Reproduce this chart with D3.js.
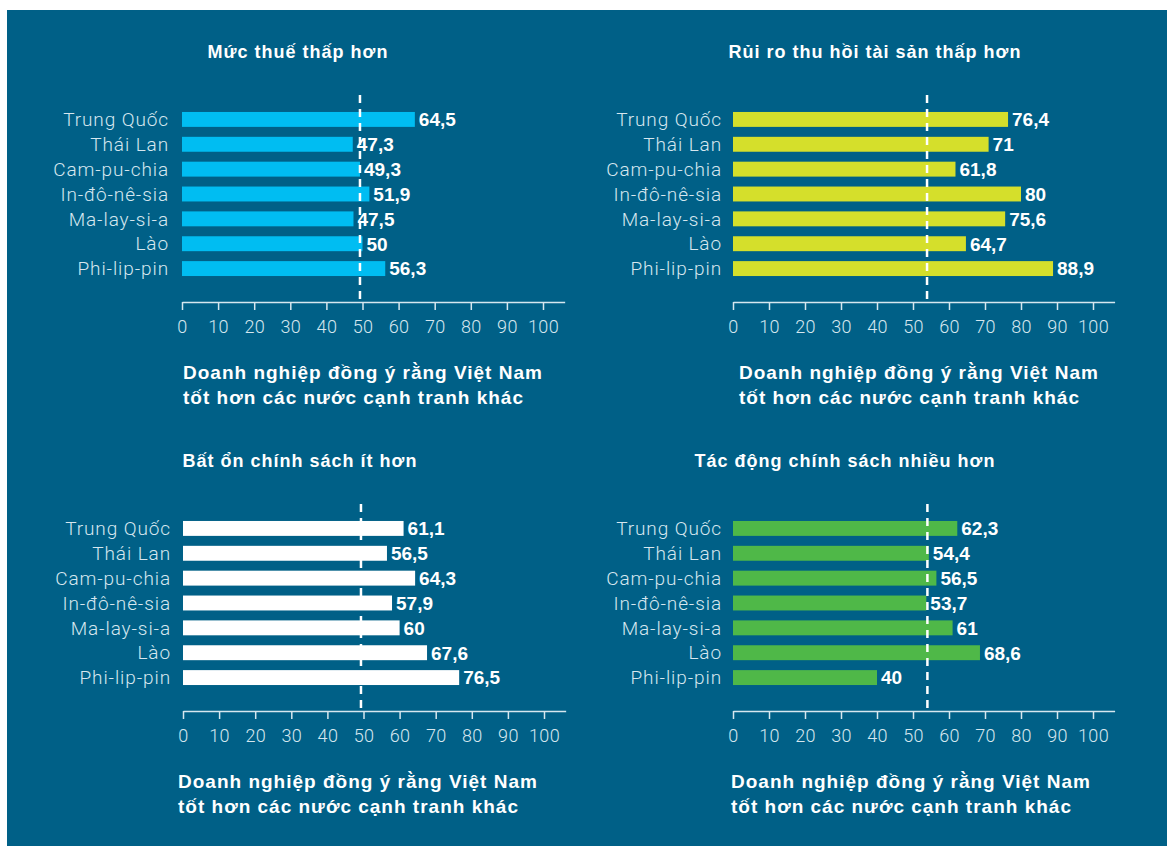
<!DOCTYPE html>
<html>
<head>
<meta charset="utf-8">
<script src="https://cdn.jsdelivr.net/npm/d3@7"></script>
<style>
  body { margin: 0; background: #fff; }
  .cat { font-family: Roboto, "Open Sans", sans-serif; font-weight: 300; font-size: 19px; letter-spacing: 0.9px; fill: #d6e7ef; }
  .val { font-family: "Liberation Sans", Arial, sans-serif; font-weight: bold; font-size: 19px; fill: #fff; }
  .ttl { font-family: "Liberation Sans", Arial, sans-serif; font-weight: bold; font-size: 18px; letter-spacing: 1px; fill: #fff; }
  .foot { font-family: "Liberation Sans", Arial, sans-serif; font-weight: bold; font-size: 19px; letter-spacing: 1px; fill: #fff; }
  .axis text { font-family: Roboto, "Open Sans", sans-serif; font-weight: 300; font-size: 18px; letter-spacing: 0.3px; fill: #d6e7ef; }
  .axis path, .axis line { stroke: #d6e7ef; stroke-width: 1.5; }
</style>
</head>
<body>
<div id="chart"></div>
<script>
// countries (same order in every panel)
var countries = ["Trung Quốc", "Thái Lan", "Cam-pu-chia", "In-đô-nê-sia", "Ma-lay-si-a", "Lào", "Phi-lip-pin"];

var titles = ["Mức thuế thấp hơn", "Rủi ro thu hồi tài sản thấp hơn",
              "Bất ổn chính sách ít hơn", "Tác động chính sách nhiều hơn"];

var taxLower = [64.5, 47.3, 49.3, 51.9, 47.5, 50, 56.3];
var assetRiskLower = [76.4, 71, 61.8, 80, 75.6, 64.7, 88.9];
var policyInstabilityLower = [61.1, 56.5, 64.3, 57.9, 60, 67.6, 76.5];
var policyImpactMore = [62.3, 54.4, 56.5, 53.7, 61, 68.6, 40];

// dashed reference value in each panel
var refValues = [49.3, 53.9, 49.3, 54];

var tickValues = [0, 10, 20, 30, 40, 50, 60, 70, 80, 90, 100];
var footLines = ["Doanh nghiệp đồng ý rằng Việt Nam", "tốt hơn các nước cạnh tranh khác"];

var svgWidth = 1167;
var svgHeight = 846;

var svg = d3.select("#chart")
  .append("svg")
  .attr("width", svgWidth)
  .attr("height", svgHeight);

svg.append("rect")
  .attr("x", 7).attr("y", 10)
  .attr("width", svgWidth - 7).attr("height", svgHeight - 10)
  .attr("fill", "#006087");

// panel layout
var panels = [
  { data: taxLower, color: "#00bdf2", x0: 182, x100: 543, top: 0, titleX: 298, labelX: 169, footX: 183 },
  { data: assetRiskLower, color: "#d5df2b", x0: 733, x100: 1093, top: 0, titleX: 875, labelX: 722, footX: 739 },
  { data: policyInstabilityLower, color: "#ffffff", x0: 183, x100: 544, top: 409, titleX: 300, labelX: 171, footX: 178 },
  { data: policyImpactMore, color: "#4fb848", x0: 733, x100: 1093, top: 409, titleX: 845, labelX: 722, footX: 731 }
];

panels.forEach(function(p, i) {
  var g = svg.append("g").attr("transform", "translate(0," + p.top + ")");

  var x = d3.scaleLinear()
    .domain([0, 100])
    .range([p.x0, p.x100]);

  var y = d3.scaleBand()
    .domain(countries)
    .range([107, 281])
    .paddingInner(0.4)
    .paddingOuter(0.2);

  var axisY = 302;

  g.append("text")
    .attr("class", "ttl")
    .attr("x", p.titleX)
    .attr("y", 58)
    .attr("text-anchor", "middle")
    .text(titles[i]);

  // bars
  g.selectAll("rect.bar")
    .data(p.data)
    .enter()
    .append("rect")
    .attr("class", "bar")
    .attr("x", x(0))
    .attr("y", function(d, j) { return y(countries[j]); })
    .attr("width", function(d) { return x(d) - x(0); })
    .attr("height", y.bandwidth())
    .attr("fill", p.color);

  // reference line
  g.append("line")
    .attr("x1", x(refValues[i])).attr("x2", x(refValues[i]))
    .attr("y1", 95).attr("y2", axisY)
    .attr("stroke", "#fff")
    .attr("stroke-width", 2.5)
    .attr("stroke-dasharray", "8,6");

  // category labels
  g.selectAll("text.cat")
    .data(countries)
    .enter()
    .append("text")
    .attr("class", "cat")
    .attr("x", p.labelX)
    .attr("y", function(d) { return y(d) + y.bandwidth() / 2; })
    .attr("dy", "0.35em")
    .attr("text-anchor", "end")
    .text(function(d) { return d; });

  // value labels
  g.selectAll("text.val")
    .data(p.data)
    .enter()
    .append("text")
    .attr("class", "val")
    .attr("x", function(d) { return x(d) + 4; })
    .attr("y", function(d, j) { return y(countries[j]) + y.bandwidth() / 2; })
    .attr("dy", "0.36em")
    .text(function(d) { return String(d).replace(".", ","); });

  // x axis
  var xAxisScale = d3.scaleLinear().domain([0, 106]).range([p.x0, x(106)]);
  g.append("g")
    .attr("class", "axis")
    .attr("transform", "translate(0," + axisY + ")")
    .call(d3.axisBottom(xAxisScale).tickValues(tickValues).tickSize(8).tickSizeOuter(0).tickPadding(10))
    .call(function(a) { a.selectAll(".tick text").attr("dy", "0.71em"); });

  // footnote
  g.selectAll("text.foot")
    .data(footLines)
    .enter()
    .append("text")
    .attr("class", "foot")
    .attr("x", p.footX)
    .attr("y", function(d, j) { return 379 + j * 25; })
    .text(function(d) { return d; });
});
</script>
</body>
</html>
